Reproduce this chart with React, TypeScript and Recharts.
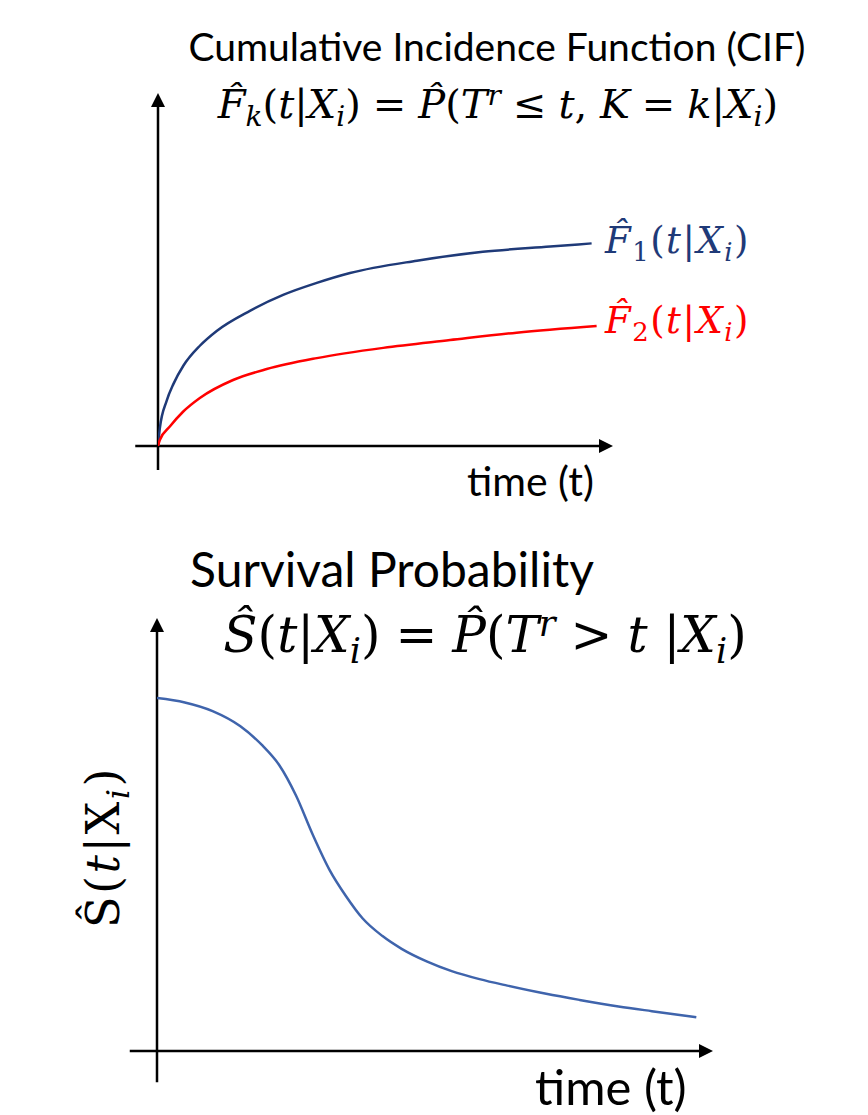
import React from 'react';
import { LineChart, Line, XAxis, YAxis, ReferenceLine } from 'recharts';

// CIF curves (time in % of axis length, probability in % of axis height)
const cif1Time = [0, 0.4, 1.9, 3.4, 5.6, 9.2, 12.9, 20.2, 27.5, 34.9, 42.2, 56.9, 71.4, 86.2, 95.3];
const cif1Prob = [0, 5.0, 12.8, 17.6, 22.8, 28.4, 32.6, 38.3, 42.8, 46.2, 49.0, 52.5, 55.0, 56.5, 57.4];
const cif2Time = [0, 0.4, 2.6, 5.5, 9.2, 16.5, 23.9, 34.9, 49.5, 64.2, 78.8, 96.4];
const cif2Prob = [0, 1.7, 5.5, 9.7, 13.6, 18.7, 21.8, 24.9, 27.8, 30.0, 32.1, 34.0];

// survival curve
const survTime = [0, 5, 10, 15, 19, 22, 25, 28, 31, 34, 37, 40.5, 44, 48.5, 53, 58, 63, 70, 76, 83, 89, 97];
const survProb = [81.5, 80.5, 78.5, 75, 70.5, 66, 59, 50, 41.9, 35.75, 30.6, 26.6, 23.6, 20.7, 18.45, 16.6, 15.1, 13.2, 11.8, 10.3, 9.2, 7.8];

const zip = (xs: number[], ys: number[]) => xs.map((x, i) => ({ t: x, p: ys[i] }));

const sansFont = 'Lato, "Open Sans", sans-serif';
const mathFont = '"DejaVu Serif", "Liberation Serif", serif';

const CIF1_COLOR = '#1F3A78';
const CIF2_COLOR = '#FF0000';
const SURV_COLOR = '#3F64AC';

// axis line with arrow head at (x2, y2)
function ArrowLine(props: any) {
  const { x1, y1, x2, y2 } = props;
  const horiz = Math.abs(y2 - y1) < Math.abs(x2 - x1);
  const L = 14, W = 7;
  let pts: string;
  if (horiz) {
    pts = `${x2},${y2} ${x2 - L},${y2 - W} ${x2 - L},${y2 + W}`;
  } else {
    pts = `${x2},${y2} ${x2 - W},${y2 + L} ${x2 + W},${y2 + L}`;
  }
  const ex = horiz ? x2 - L + 1 : x2;
  const ey = horiz ? y2 : y2 + L - 1;
  return (
    <g>
      <line x1={x1} y1={y1} x2={ex} y2={ey} stroke="#000" strokeWidth={2.5} />
      <polygon points={pts} fill="#000" />
    </g>
  );
}

function Sub({ children }: { children: React.ReactNode }) {
  return <span style={{ fontSize: '0.7em', position: 'relative', top: '0.3em' }}>{children}</span>;
}
function Sup({ children }: { children: React.ReactNode }) {
  return <span style={{ fontSize: '0.7em', position: 'relative', top: '-0.45em' }}>{children}</span>;
}
function I({ children }: { children: React.ReactNode }) {
  return <span style={{ fontStyle: 'italic' }}>{children}</span>;
}
function Op({ children }: { children: React.ReactNode }) {
  return <span style={{ margin: '0 0.3em' }}>{children}</span>;
}

function Txt({ left, top, width, size, font, color = '#000', align = 'center', spacing = 0, children }: any) {
  return (
    <div style={{
      position: 'absolute', left, top, width, fontSize: size, fontFamily: font, color,
      textAlign: align, whiteSpace: 'nowrap', lineHeight: 1, letterSpacing: spacing,
    }}>
      {children}
    </div>
  );
}

function CifChart() {
  return (
    <LineChart width={868} height={520} margin={{ top: 93, right: 255, bottom: 74, left: 158 }}>
      <XAxis type="number" dataKey="t" domain={[0, 100]} hide allowDataOverflow />
      <YAxis type="number" domain={[0, 100]} hide allowDataOverflow />
      <ReferenceLine segment={[{ x: -5, y: 0 }, { x: 100, y: 0 }]} ifOverflow="visible" shape={ArrowLine} />
      <ReferenceLine segment={[{ x: 0, y: -6.8 }, { x: 0, y: 100 }]} ifOverflow="visible" shape={ArrowLine} />
      <Line data={zip(cif1Time, cif1Prob)} dataKey="p" type="monotone" stroke={CIF1_COLOR}
        strokeWidth={2.5} dot={false} isAnimationActive={false} />
      <Line data={zip(cif2Time, cif2Prob)} dataKey="p" type="monotone" stroke={CIF2_COLOR}
        strokeWidth={2.5} dot={false} isAnimationActive={false} />
    </LineChart>
  );
}

function SurvChart() {
  return (
    <LineChart width={868} height={585} margin={{ top: 88, right: 155, bottom: 64, left: 157 }}>
      <XAxis type="number" dataKey="t" domain={[0, 100]} hide allowDataOverflow />
      <YAxis type="number" domain={[0, 100]} hide allowDataOverflow />
      <ReferenceLine segment={[{ x: -4.9, y: 0 }, { x: 100, y: 0 }]} ifOverflow="visible" shape={ArrowLine} />
      <ReferenceLine segment={[{ x: 0, y: -7.2 }, { x: 0, y: 100 }]} ifOverflow="visible" shape={ArrowLine} />
      <Line data={zip(survTime, survProb)} dataKey="p" type="monotone" stroke={SURV_COLOR}
        strokeWidth={2.5} dot={false} isAnimationActive={false} />
    </LineChart>
  );
}

export default function App() {
  return (
    <div style={{ position: 'absolute', left: 0, top: 0, width: 868, height: 1115, background: '#fff', overflow: 'hidden' }}>
      <div style={{ position: 'absolute', left: 0, top: 0 }}><CifChart /></div>
      <div style={{ position: 'absolute', left: 0, top: 530 }}><SurvChart /></div>

      <Txt left={97} top={27} width={800} size={39} font={sansFont}>
        Cumulative Incidence Function (CIF)
      </Txt>
      <Txt left={98} top={84} width={800} size={40} font={mathFont}>
        <I>F̂</I><Sub><I>k</I></Sub>(<I>t</I>|<I>X</I><Sub><I>i</I></Sub>)<Op>=</Op><I>P̂</I>(<I>T</I><Sup><I>r</I></Sup><Op>≤</Op><I>t</I>, <I>K</I><Op>=</Op><I>k</I>|<I>X</I><Sub><I>i</I></Sub>)
      </Txt>
      <Txt left={605} top={222} width={260} size={37} spacing={1.5} font={mathFont} color={CIF1_COLOR} align="left">
        <I>F̂</I><Sub>1</Sub>(<I>t</I>|<I>X</I><Sub><I>i</I></Sub>)
      </Txt>
      <Txt left={605} top={302} width={260} size={37} spacing={1.5} font={mathFont} color={CIF2_COLOR} align="left">
        <I>F̂</I><Sub>2</Sub>(<I>t</I>|<I>X</I><Sub><I>i</I></Sub>)
      </Txt>
      <Txt left={467} top={460} width={200} size={41} font={sansFont} align="left">time (t)</Txt>

      <Txt left={-8} top={545} width={800} size={48} font={sansFont}>Survival Probability</Txt>
      <Txt left={85} top={610} width={800} size={50} font={mathFont}>
        <I>Ŝ</I>(<I>t</I>|<I>X</I><Sub><I>i</I></Sub>)<Op>=</Op><I>P̂</I>(<I>T</I><Sup><I>r</I></Sup><Op>&gt;</Op><I>t</I> |<I>X</I><Sub><I>i</I></Sub>)
      </Txt>
      <div style={{
        position: 'absolute', left: 103, top: 847, transform: 'translate(-50%, -50%) rotate(-90deg)',
        fontSize: 46, fontFamily: mathFont, whiteSpace: 'nowrap', lineHeight: 1, letterSpacing: 2.5,
      }}>
        Ŝ(<I>t</I>|X<Sub><I>i</I></Sub>)
      </div>
      <Txt left={535} top={1062} width={200} size={49} font={sansFont} align="left">time (t)</Txt>
    </div>
  );
}
